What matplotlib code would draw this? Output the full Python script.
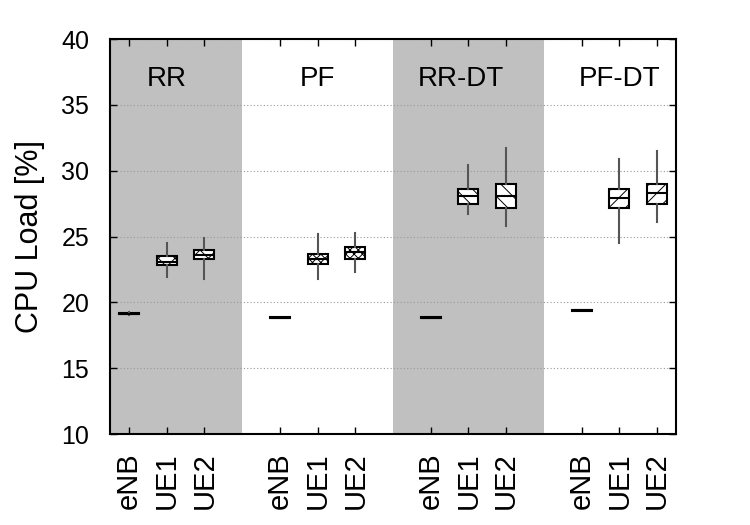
import matplotlib
matplotlib.use("Agg")
import matplotlib.pyplot as plt

plt.rcParams['font.family'] = ['Liberation Sans', 'DejaVu Sans']
plt.rcParams['hatch.linewidth'] = 0.7
plt.rcParams['hatch.color'] = '#333333'

groups = ["RR", "PF", "RR-DT", "PF-DT"]
nodes = ["eNB", "UE1", "UE2"]
hatches = ["xx", "xxxx", "\\\\", "//"]

# per group: values for eNB, UE1, UE2
whislo = [[19.05, 21.9, 21.8], [18.8, 21.8, 22.3], [18.8, 26.7, 25.8], [19.35, 24.5, 26.1]]
q1 = [[19.12, 22.8, 23.3], [18.82, 22.9, 23.3], [18.82, 27.45, 27.2], [19.38, 27.2, 27.5]]
med = [[19.15, 23.1, 23.6], [18.84, 23.3, 23.8], [18.84, 28.1, 28.1], [19.4, 27.9, 28.3]]
q3 = [[19.18, 23.5, 23.95], [18.86, 23.7, 24.2], [18.86, 28.6, 29.0], [19.42, 28.6, 29.0]]
whishi = [[19.25, 24.5, 24.9], [18.9, 25.2, 25.3], [18.9, 30.4, 31.7], [19.45, 30.9, 31.5]]

fig = plt.figure(figsize=(7.5, 5.25), dpi=100)
ax = fig.add_axes([0.1467, 0.1733, 0.7546, 0.7524])

for gi in range(4):
    if gi % 2 == 0:
        lo = 0.5 if gi == 0 else 4 * gi
        ax.axvspan(lo, 4 * gi + 4, color="#c0c0c0", zorder=0, lw=0)

ax.yaxis.grid(True, linestyle=(0, (1, 2)), color="#999999", linewidth=0.8, zorder=1)
ax.set_axisbelow(True)

positions = []
labels = []
for gi in range(4):
    stats = []
    pos = []
    for ni in range(3):
        stats.append(dict(whislo=whislo[gi][ni], q1=q1[gi][ni], med=med[gi][ni],
                          q3=q3[gi][ni], whishi=whishi[gi][ni], fliers=[]))
        pos.append(4 * gi + 1 + ni)
        labels.append(nodes[ni])
    positions += pos
    bp = ax.bxp(stats, positions=pos, widths=0.53, showcaps=False, showfliers=False,
                patch_artist=True,
                boxprops=dict(facecolor="white", edgecolor="black", linewidth=1.5),
                medianprops=dict(color="black", linewidth=1.5),
                whiskerprops=dict(color="#555555", linewidth=1.5), zorder=3)
    for i, b in enumerate(bp['boxes']):
        if i > 0:
            b.set_hatch(hatches[gi])
    ax.text(4 * gi + 2 + (-0.2 if gi == 2 else 0), 37.0, groups[gi], ha="center", va="center",
            fontsize=20)

ax.set_xlim(0.5, 15.5)
ax.set_ylim(10, 40)
ax.set_yticks([10, 15, 20, 25, 30, 35, 40])
ax.set_xticks(positions)
ax.set_xticklabels(labels, rotation=90, fontsize=21)
ax.tick_params(axis='y', labelsize=18, direction='in', length=5, right=True, width=1, pad=15)
ax.tick_params(axis='x', direction='in', length=5, top=True, width=1, pad=13)
ax.set_ylabel("CPU Load [%]", fontsize=22, labelpad=12)
for s in ax.spines.values():
    s.set_linewidth(1.5)

fig.savefig("out.png", dpi=100)
